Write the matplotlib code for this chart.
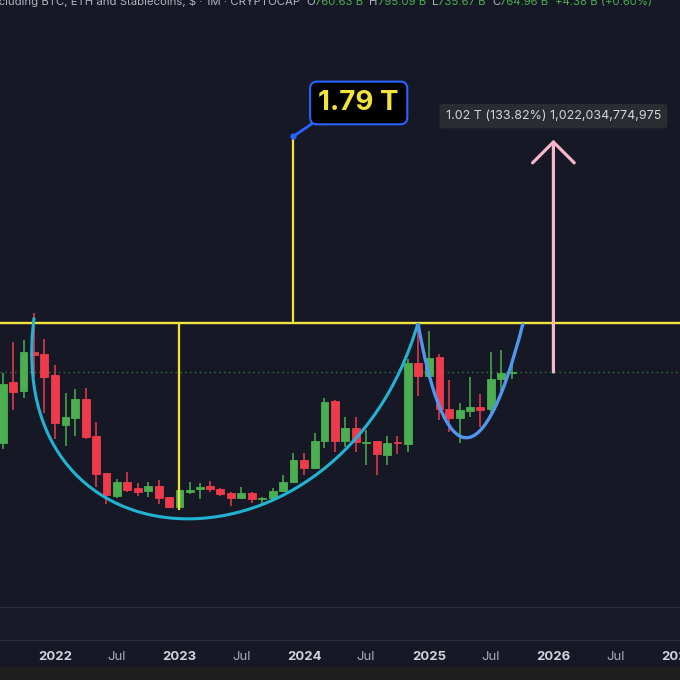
import numpy as np
import pandas as pd
import matplotlib
matplotlib.use("Agg")
import matplotlib.pyplot as plt
import matplotlib.dates as mdates
from matplotlib.path import Path
from matplotlib.patches import PathPatch, Rectangle

# monthly candles, values in billions of USD
months = pd.date_range("2021-08-01", periods=50, freq="MS")
opens = [452.6, 721.0, 681.4, 853.0, 844.2, 751.8, 531.8, 562.6, 646.2, 483.4,
         320.6, 219.4, 281.0, 254.6, 241.4, 263.4, 215.0, 171.0, 237.0, 250.2,
         263.4, 250.2, 232.6, 210.6, 232.6, 206.2, 210.6, 241.4, 281.0, 377.8,
         342.6, 461.4, 637.4, 461.4, 518.6, 452.6, 461.4, 399.8, 457.0, 448.2,
         804.6, 747.4, 831.0, 602.2, 562.6, 593.4, 611.0, 602.2, 734.2, 760.63]
highs = [760.6, 897.0, 905.8, 1024.6, 910.2, 795.8, 672.6, 690.2, 694.6, 545.0,
         320.6, 294.2, 325.0, 276.6, 281.0, 289.8, 215.0, 245.8, 281.0, 276.6,
         285.4, 254.6, 237.0, 259.0, 237.0, 215.0, 254.6, 311.8, 408.6, 408.6,
         496.6, 650.6, 641.8, 567.0, 567.0, 509.8, 461.4, 483.4, 483.4, 822.2,
         971.8, 945.4, 844.2, 729.8, 628.6, 743.0, 668.2, 853.0, 861.8, 795.09]
lows = [426.2, 597.8, 650.6, 743.0, 584.6, 470.2, 439.4, 483.4, 470.2, 259.0,
        184.2, 210.6, 237.0, 219.4, 215.0, 184.2, 166.6, 157.8, 228.2, 206.2,
        237.0, 219.4, 175.4, 206.2, 188.6, 188.6, 206.2, 237.0, 276.6, 311.8,
        338.2, 430.6, 413.0, 435.0, 413.0, 355.8, 311.8, 355.8, 404.2, 413.0,
        659.4, 743.0, 553.8, 501.0, 452.6, 567.0, 523.0, 575.8, 677.0, 735.67]
closes = [712.2, 677.0, 853.0, 839.8, 743.0, 540.6, 567.0, 646.2, 479.0, 316.2,
          223.8, 281.0, 245.8, 237.0, 263.4, 210.6, 171.0, 245.8, 245.8, 259.0,
          250.2, 228.2, 210.6, 232.6, 206.2, 210.6, 241.4, 281.0, 377.8, 342.6,
          461.4, 633.0, 461.4, 518.6, 457.0, 457.0, 404.2, 452.6, 452.6, 804.6,
          747.4, 826.6, 602.2, 562.6, 597.8, 611.0, 597.8, 734.2, 760.6, 764.96]

# drawings
rim_level = 980.0
low_date = "2023-01-01"
target_date = "2023-12-01"
arrow_date = "2026-01-01"
arrow_gain = 1022.03
cup_dates = ["2021-11-01", "2021-07-24", "2024-04-15", "2024-11-30"]
cup_vals = [1005, -150, -194, 980]
handle_dates = ["2024-11-30", "2025-02-03", "2025-05-25", "2025-10-04"]
handle_vals = [980, 422, 202, 980]

tick_dates = ["2022-01-01", "2022-07-01", "2023-01-01", "2023-07-01", "2024-01-01",
              "2024-07-01", "2025-01-01", "2025-07-01", "2026-01-01", "2026-07-01",
              "2027-01-01"]
tick_labels = ["2022", "Jul", "2023", "Jul", "2024", "Jul", "2025", "Jul", "2026", "Jul", "2027"]

title = "Crypto Total Market Cap Excluding BTC, ETH and Stablecoins, $ · 1M · CRYPTOCAP"
ohlc_keys = ["O", "H", "L", "C"]
change_txt = "+4.38 B (+0.60%)"

BG = "#161925"
GREEN = "#4bae50"
RED = "#ef3a4c"
YELLOW = "#f2e23c"
GRID = "#2a2e39"

plt.rcParams["font.family"] = ["Inter", "DejaVu Sans"]

fig = plt.figure(figsize=(6.8, 6.8), dpi=100, facecolor=BG)
ax = fig.add_axes([0, 73 / 680, 1, 607 / 680])
ax.set_facecolor(BG)
ax2 = fig.add_axes([0, 40 / 680, 1, 33 / 680], sharex=ax)
ax2.set_facecolor("#181b27")

x = mdates.date2num(months)
o = np.array(opens)
c = np.array(closes)
cols = [GREEN if cc >= oo else RED for oo, cc in zip(o, c)]

ax.vlines(x, lows, highs, colors=cols, lw=1.1, zorder=2)
ax.bar(x, np.abs(c - o), bottom=np.minimum(o, c), width=23, color=cols,
       edgecolor=cols, lw=0.6, zorder=3)

# last price line
ax.axhline(closes[-1], color=GREEN, lw=1, ls=(0, (1, 2.5)), alpha=0.6, zorder=1)

# neckline and measured move
cup_low = min(lows)
target = rim_level + (rim_level - cup_low)
ax.axhline(rim_level, color=YELLOW, lw=1.7, zorder=4)
d_low = mdates.date2num(pd.Timestamp(low_date))
d_tgt = mdates.date2num(pd.Timestamp(target_date))
ax.vlines(d_low, cup_low, rim_level, color=YELLOW, lw=1.6, zorder=4)
ax.vlines(d_tgt, rim_level, target, color=YELLOW, lw=1.6, zorder=4)
ax.plot(d_tgt, target, "o", color="#2962ff", ms=3.5, zorder=6)

# cup and handle curves
codes = [Path.MOVETO, Path.CURVE4, Path.CURVE4, Path.CURVE4]
cup_pts = list(zip(mdates.date2num(pd.to_datetime(cup_dates)), cup_vals))
handle_pts = list(zip(mdates.date2num(pd.to_datetime(handle_dates)), handle_vals))
ax.add_patch(PathPatch(Path(cup_pts, codes), fill=False, ec="#22b2d2", lw=2.2, zorder=5))
ax.add_patch(PathPatch(Path(handle_pts, codes), fill=False, ec="#5095ee", lw=2.4, zorder=5))

ax.annotate("1.79 T", xy=(d_tgt, target), xytext=(47, 24), textcoords="offset points",
            ha="center", va="center", fontsize=20, fontweight="bold", color=YELLOW,
            bbox=dict(boxstyle="round,pad=0.3,rounding_size=0.25", fc="black",
                      ec="#2962ff", lw=1.5),
            arrowprops=dict(arrowstyle="-", color="#2962ff", lw=2, shrinkA=0, shrinkB=0,
                            relpos=(0.06, 0.0)), zorder=7)

# projected move arrow
d_arr = mdates.date2num(pd.Timestamp(arrow_date))
arrow_top = closes[-1] + arrow_gain
ax.annotate("", xy=(d_arr, arrow_top), xytext=(d_arr, closes[-1]),
            arrowprops=dict(arrowstyle="->,head_length=1.5,head_width=1.5", color="#f6b6cb",
                            lw=2.3, shrinkA=0, shrinkB=0, mutation_scale=10), zorder=6)
ax.annotate("1.02 T (133.82%) 1,022,034,774,975", xy=(d_arr, arrow_top), xytext=(0, 17),
            textcoords="offset points", ha="center", va="center", fontsize=9,
            color="#d1d4dc",
            bbox=dict(boxstyle="round,pad=0.5,rounding_size=0.3", fc="#2b2c31", ec="none"),
            zorder=7)

ax.set_xlim(mdates.date2num(pd.Timestamp("2021-07-24")), mdates.date2num(pd.Timestamp("2027-01-07")))
ax.set_ylim(-269, 2402)
ax.tick_params(labelbottom=False, length=0)
ax.set_yticks([])
for s in ax.spines.values():
    s.set_visible(False)

ax2.set_yticks([])
ax2.set_xticks(mdates.date2num(pd.to_datetime(tick_dates)), tick_labels)
ax2.tick_params(axis="x", length=0, pad=8, labelsize=9.5)
for lab in ax2.get_xticklabels():
    if lab.get_text() == "Jul":
        lab.set_color("#a9acb5")
    else:
        lab.set_color("#d1d4dc")
        lab.set_fontweight("bold")
for side in ["left", "right"]:
    ax2.spines[side].set_visible(False)
for side in ["top", "bottom"]:
    ax2.spines[side].set_color(GRID)
    ax2.spines[side].set_linewidth(1)

fig.add_artist(Rectangle((0, 0), 1, 13 / 680, transform=fig.transFigure,
                         color="#1f1f1f", lw=0))

# legend line at the top, mostly cut off
prev = fig.text(300 / 680, 1 - 5 / 680, title, ha="right", va="baseline",
                fontsize=8.2, color="#b2b5be")
vals = [opens[-1], highs[-1], lows[-1], closes[-1]]
pieces = []
for k, v in zip(ohlc_keys, vals):
    pieces.append((k, "#b2b5be", 4.5))
    pieces.append((f"{v:.2f} B", GREEN, 0))
pieces.append((change_txt, GREEN, 4.5))
for txt, col, gap in pieces:
    prev = ax.annotate(txt, xy=(1, 0), xycoords=prev, xytext=(gap, 0),
                       textcoords="offset points", ha="left", va="bottom",
                       fontsize=8.2, color=col, annotation_clip=False)

fig.savefig("out.png", dpi=100, facecolor=BG)
